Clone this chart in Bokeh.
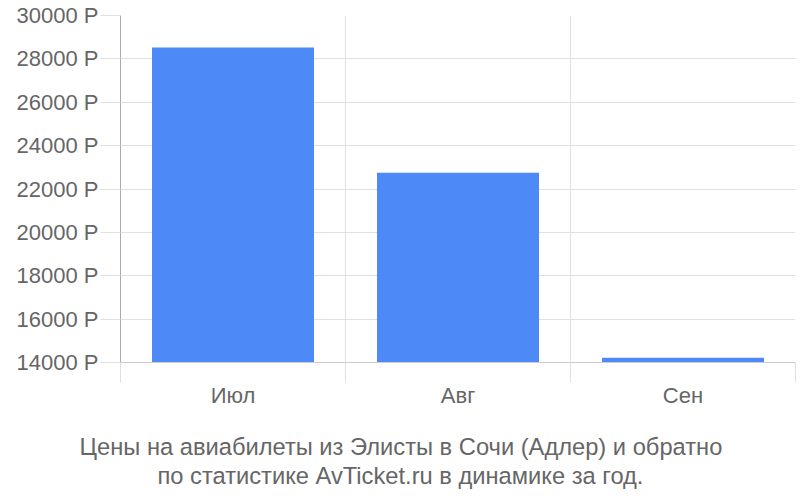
from bokeh.plotting import figure
from bokeh.models import Range1d, FixedTicker, PrintfTickFormatter, Title
from bokeh.embed import file_html
from bokeh.resources import INLINE

months = ["Июл", "Авг", "Сен"]
prices = [28520, 22750, 14220]
y_ticks = [14000, 16000, 18000, 20000, 22000, 24000, 26000, 28000, 30000]
title_lines = [
    "Цены на авиабилеты из Элисты в Сочи (Адлер) и обратно",
    "по статистике AvTicket.ru в динамике за год.",
]

centers = [i + 0.5 for i in range(len(months))]
bounds = list(range(len(months) + 1))

W, H = 798, 498
BL, BR = 120, 3
TXT = "#666666"
GRID = "#e0e0e0"

p = figure(width=W, height=H,
           x_range=Range1d(0, len(months)), y_range=Range1d(y_ticks[0], y_ticks[-1]),
           output_backend="svg", toolbar_location=None,
           min_border_left=BL, min_border_right=BR, min_border_top=15, min_border_bottom=136)
p.outline_line_color = None

p.vbar(x=centers, top=prices, bottom=y_ticks[0], width=0.72,
       fill_color="#4e89f8", line_color=None)

# x axis
xa = p.xaxis[0]
xa.ticker = FixedTicker(ticks=centers, minor_ticks=bounds)
xa.major_label_overrides = {c: m for c, m in zip(centers, months)}
xa.major_tick_out = 0
xa.major_tick_in = 0
xa.minor_tick_out = 20
xa.minor_tick_in = 0
xa.minor_tick_line_color = GRID
xa.axis_line_color = "#cccccc"
xa.major_label_text_font = "Liberation Sans"
xa.major_label_text_font_size = "22px"
xa.major_label_text_color = TXT
xa.major_label_standoff = 0

# y axis
ya = p.yaxis[0]
ya.ticker = FixedTicker(ticks=y_ticks)
ya.formatter = PrintfTickFormatter(format="%d Р")
ya.major_tick_out = 20
ya.major_tick_in = 0
ya.major_tick_line_color = GRID
ya.minor_tick_line_color = None
ya.axis_line_color = "#aaaaaa"
ya.major_label_text_font = "Liberation Sans"
ya.major_label_text_font_size = "22px"
ya.major_label_text_color = TXT
ya.major_label_standoff = 2

p.xgrid.ticker = FixedTicker(ticks=bounds)
p.xgrid.grid_line_color = GRID
p.ygrid.ticker = FixedTicker(ticks=y_ticks)
p.ygrid.grid_line_color = GRID

# caption: a spacer, then the two lines, left-anchored so they sit centred on the page
p.add_layout(Title(text=" ", text_font_size="1px", standoff=18), "below")
for line, off in zip(title_lines, [-41, 37]):
    p.add_layout(Title(text=line, align="left", offset=off, standoff=1,
                       text_font="Liberation Sans", text_font_size="23.7px",
                       text_font_style="normal", text_color=TXT), "below")

open("out.html", "w").write(file_html(p, INLINE))
